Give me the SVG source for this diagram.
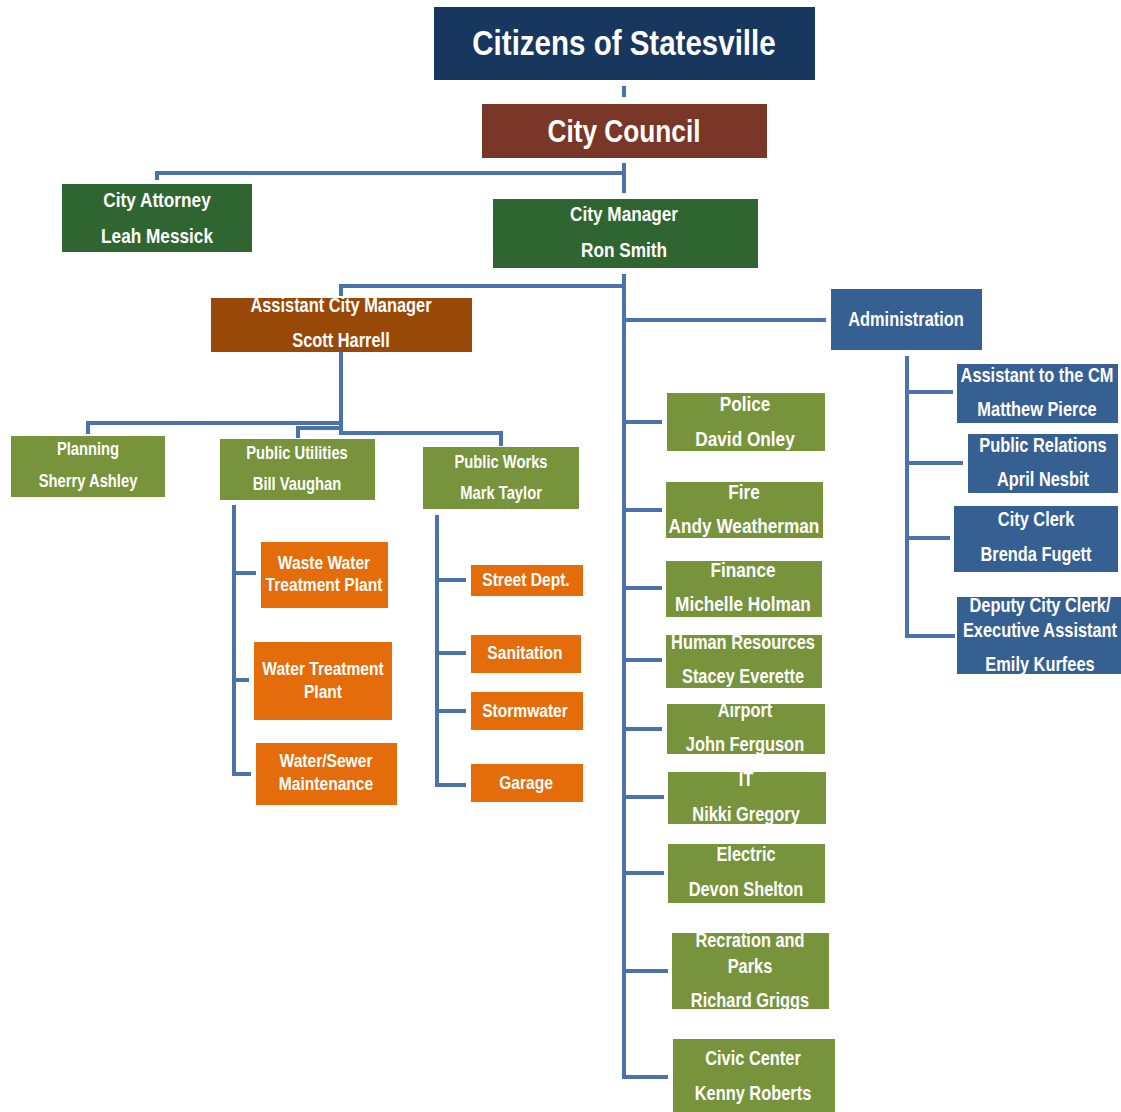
<svg xmlns="http://www.w3.org/2000/svg" width="1121" height="1112" viewBox="0 0 1121 1112">
<style>
text{font-family:"Liberation Sans",Arial,sans-serif;font-weight:bold;fill:#ffffff;text-anchor:middle;dominant-baseline:central;transform-box:fill-box;transform-origin:center;transform:scaleX(0.82)}
.c{fill:none;stroke:#4a72ad;stroke-width:4}
.navy{fill:#17375e}.council{fill:#7a3626}.dg{fill:#2f6530}.acm{fill:#984807}.blue{fill:#376092}.olive{fill:#77933c}.orange{fill:#e46c0a}
.t36{font-size:36px}.t32{font-size:32px}.t21{font-size:21px}.t20{font-size:20px}.t19{font-size:19px}.t18{font-size:18px}
</style>
<rect width="1121" height="1112" fill="#ffffff"/>
<g id="connectors">
<path class="c" d="M624,86V97"/>
<path class="c" d="M624,163V193M624,173H157V180"/>
<path class="c" d="M624,274V1077H668M624,286H341V296"/>
<path class="c" d="M624,320H826"/>
<path class="c" d="M624,422H662M624,510H662M624,588H662M624,660H662M624,729H662M624,797H664M624,873H664M624,971H668"/>
<path class="c" d="M907,356V636H955M907,392H953M907,463H963M907,538H950"/>
<path class="c" d="M341,352V423H88V434M341,423V428H298V438M341,428V433H501V446"/>
<path class="c" d="M234,505V774H251M234,573H256M234,680H249"/>
<path class="c" d="M437,515V785H466M437,580H466M437,653H466M437,711H466"/>
</g>
<g id="citizens"><rect class="navy" x="434" y="7" width="381" height="73"/><text class="t36" x="624" y="42">Citizens of Statesville</text></g>
<g id="city-council"><rect class="council" x="482" y="104" width="285" height="54"/><text class="t32" x="624" y="131">City Council</text></g>
<g id="city-attorney"><rect class="dg" x="62" y="184" width="190" height="68"/><text class="t21" x="157" y="200">City Attorney</text><text class="t21" x="157" y="236">Leah Messick</text></g>
<g id="city-manager"><rect class="dg" x="493" y="199" width="265" height="69"/><text class="t21" x="624" y="214">City Manager</text><text class="t21" x="624" y="250">Ron Smith</text></g>
<g id="assistant-city-manager"><rect class="acm" x="211" y="298" width="261" height="54"/><text class="t20" x="341" y="305">Assistant City Manager</text><text class="t20" x="341" y="340">Scott Harrell</text></g>
<g id="administration"><rect class="blue" x="831" y="289" width="151" height="61"/><text class="t20" x="906" y="319">Administration</text></g>
<g id="assistant-cm"><rect class="blue" x="957" y="364" width="161" height="59"/><text class="t20" x="1037" y="375">Assistant to the CM</text><text class="t20" x="1037" y="409">Matthew Pierce</text></g>
<g id="public-relations"><rect class="blue" x="968" y="434" width="150" height="59"/><text class="t20" x="1043" y="445">Public Relations</text><text class="t20" x="1043" y="479">April Nesbit</text></g>
<g id="city-clerk"><rect class="blue" x="954" y="506" width="164" height="66"/><text class="t20" x="1036" y="519">City Clerk</text><text class="t20" x="1036" y="554">Brenda Fugett</text></g>
<g id="deputy-city-clerk"><rect class="blue" x="957" y="597" width="164" height="77"/><text class="t20" x="1040" y="605">Deputy City Clerk/</text><text class="t20" x="1040" y="630">Executive Assistant</text><text class="t20" x="1040" y="664">Emily Kurfees</text></g>
<g id="police"><rect class="olive" x="667" y="393" width="158" height="58"/><text class="t21" x="745" y="404">Police</text><text class="t21" x="745" y="439">David Onley</text></g>
<g id="fire"><rect class="olive" x="666" y="482" width="157" height="56"/><text class="t21" x="744" y="492">Fire</text><text class="t21" x="744" y="526">Andy Weatherman</text></g>
<g id="finance"><rect class="olive" x="666" y="561" width="156" height="56"/><text class="t21" x="743" y="570">Finance</text><text class="t21" x="743" y="604">Michelle Holman</text></g>
<g id="human-resources"><rect class="olive" x="666" y="635" width="156" height="53"/><text class="t20" x="743" y="642">Human Resources</text><text class="t20" x="743" y="676">Stacey Everette</text></g>
<g id="airport"><rect class="olive" x="667" y="704" width="158" height="50"/><text class="t20" x="745" y="710">Airport</text><text class="t20" x="745" y="744">John Ferguson</text></g>
<g id="it"><rect class="olive" x="668" y="772" width="158" height="52"/><text class="t20" x="746" y="779">IT</text><text class="t20" x="746" y="814">Nikki Gregory</text></g>
<g id="electric"><rect class="olive" x="668" y="844" width="157" height="59"/><text class="t20" x="746" y="854">Electric</text><text class="t20" x="746" y="889">Devon Shelton</text></g>
<g id="recreation-parks"><rect class="olive" x="672" y="933" width="157" height="76"/><text class="t20" x="750" y="940">Recration and</text><text class="t20" x="750" y="966">Parks</text><text class="t20" x="750" y="1000">Richard Griggs</text></g>
<g id="civic-center"><rect class="olive" x="673" y="1039" width="162" height="73"/><text class="t20" x="753" y="1058">Civic Center</text><text class="t20" x="753" y="1093">Kenny Roberts</text></g>
<g id="planning"><rect class="olive" x="11" y="436" width="154" height="61"/><text class="t18" x="88" y="448">Planning</text><text class="t18" x="88" y="480">Sherry Ashley</text></g>
<g id="public-utilities"><rect class="olive" x="220" y="439" width="155" height="61"/><text class="t18" x="297" y="452">Public Utilities</text><text class="t18" x="297" y="483">Bill Vaughan</text></g>
<g id="public-works"><rect class="olive" x="423" y="447" width="156" height="62"/><text class="t18" x="501" y="461">Public Works</text><text class="t18" x="501" y="492">Mark Taylor</text></g>
<g id="waste-water"><rect class="orange" x="261" y="542" width="127" height="66"/><text class="t19" x="324" y="562">Waste Water</text><text class="t19" x="324" y="584">Treatment Plant</text></g>
<g id="water-treatment"><rect class="orange" x="254" y="642" width="138" height="78"/><text class="t19" x="323" y="668">Water Treatment</text><text class="t19" x="323" y="691">Plant</text></g>
<g id="water-sewer"><rect class="orange" x="256" y="743" width="141" height="62"/><text class="t19" x="326" y="760">Water/Sewer</text><text class="t19" x="326" y="783">Maintenance</text></g>
<g id="street-dept"><rect class="orange" x="471" y="565" width="112" height="31"/><text class="t19" x="526" y="579">Street Dept.</text></g>
<g id="sanitation"><rect class="orange" x="471" y="635" width="110" height="38"/><text class="t19" x="525" y="652">Sanitation</text></g>
<g id="stormwater"><rect class="orange" x="471" y="692" width="112" height="38"/><text class="t19" x="525" y="710">Stormwater</text></g>
<g id="garage"><rect class="orange" x="471" y="764" width="112" height="38"/><text class="t19" x="526" y="782">Garage</text></g>
</svg>
